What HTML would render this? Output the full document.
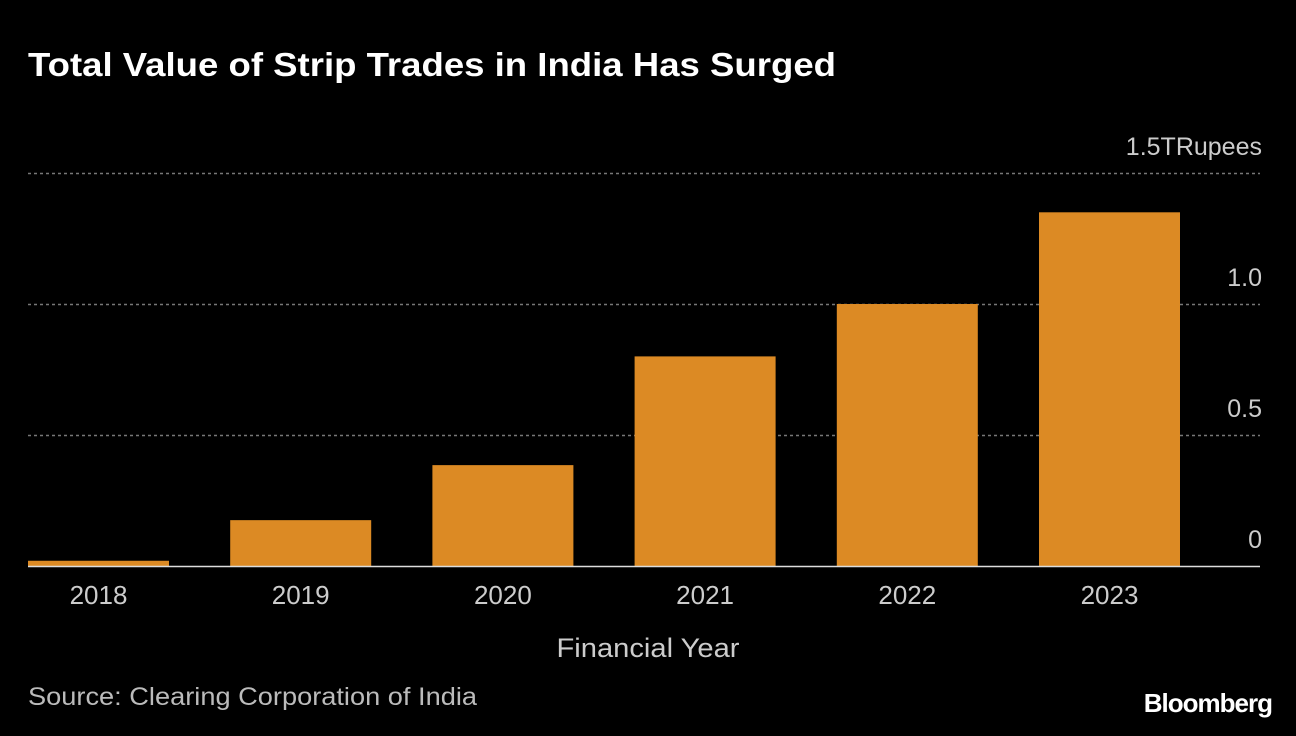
<!DOCTYPE html>
<html><head><meta charset="utf-8"><style>
body{margin:0;background:#000;width:1296px;height:736px;overflow:hidden;font-family:"Liberation Sans",sans-serif;}
svg{display:block}
</style></head><body>
<svg width="1296" height="736" id="c">
<text x="28" y="76" fill="#fff" font-size="33" font-weight="bold" textLength="808" lengthAdjust="spacingAndGlyphs">Total Value of Strip Trades in India Has Surged</text>
<g id="grid"></g>
<g id="bars"></g>
<g id="xt"></g>
<line x1="28" x2="1260" y1="566.5" y2="566.5" stroke="#ddd" stroke-width="1.5"/>
<text x="648" y="657" fill="#ccc" font-size="27" text-anchor="middle" textLength="183" lengthAdjust="spacingAndGlyphs">Financial Year</text>
<text x="28" y="705" fill="#bbb" font-size="25" textLength="449" lengthAdjust="spacingAndGlyphs">Source: Clearing Corporation of India</text>
<text x="1272" y="712" fill="#fff" font-size="26" font-weight="bold" text-anchor="end" letter-spacing="-1">Bloomberg</text>
</svg>
<script>
const categories=["2018","2019","2020","2021","2022","2023"];
const values=[0.02,0.175,0.385,0.80,1.0,1.35];
const tickValues=[0,0.5,1.0,1.5];
const tickLabels=["0","0.5","1.0","1.5TRupees"];
const ns="http://www.w3.org/2000/svg";
const y0=566,pxPer=262;
const y=v=>y0-v*pxPer;
const x=i=>28+i*202.2;
const bw=141;
function mk(t,a,p){const e=document.createElementNS(ns,t);for(const k in a)e.setAttribute(k,a[k]);p.appendChild(e);return e;}
const grid=document.getElementById('grid');
tickValues.forEach((v,i)=>{
 if(v>0){const l=mk('line',{x1:28,x2:1260,y1:y(v)+0.5,y2:y(v)+0.5,stroke:'#777','stroke-dasharray':'3,3','stroke-width':1.5},grid);
 
 }
 const t=mk('text',{x:1262,y:y(v)-18,fill:'#ccc','font-size':25,'text-anchor':'end'},grid);
 t.textContent=tickLabels[i];
 
 
});
const bars=document.getElementById('bars'),xt=document.getElementById('xt');
categories.forEach((c,i)=>{
 const r=mk('rect',{x:x(i),y:y(values[i]),width:bw,height:y0-y(values[i]),fill:'#dc8a24'},bars);
 
 
 const t=mk('text',{x:x(i)+bw/2,y:604,fill:'#ccc','font-size':26,'text-anchor':'middle'},xt);
 t.textContent=c;
 
 
});
</script>
</body></html>
